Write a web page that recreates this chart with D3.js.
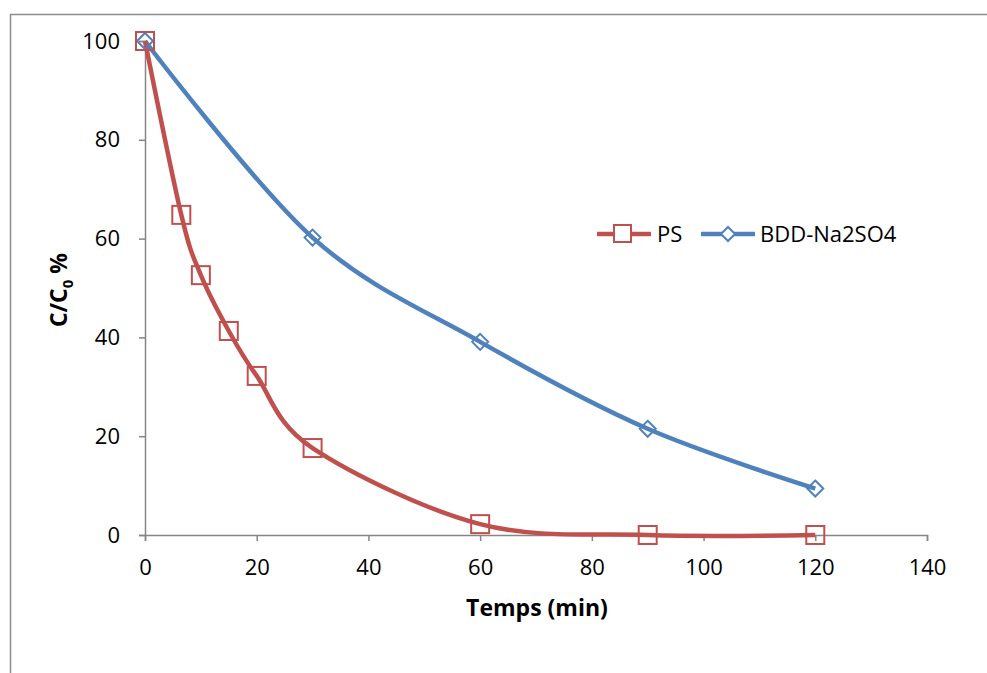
<!DOCTYPE html>
<html><head><meta charset="utf-8">
<script src="https://cdn.jsdelivr.net/npm/d3@7"></script>
<style>body{margin:0;background:#fff}svg{display:block}text{font-family:"Open Sans","Noto Sans",sans-serif}</style>
</head><body>
<script>
const psTime = [0, 6.5, 10, 15, 20, 30, 60, 90, 120];
const psValues = [100, 64.8, 52.6, 41.3, 32.2, 17.6, 2.2, 0, 0];
const bddTime = [0, 30, 60, 90, 120];
const bddValues = [100, 60.2, 39.1, 21.5, 9.4];
const xTicks = [0, 20, 40, 60, 80, 100, 120, 140];
const yTicks = [0, 20, 40, 60, 80, 100];
const seriesNames = ["PS", "BDD-Na2SO4"];

const W = 987, H = 673;
const svg = d3.select("body").append("svg").attr("width", W).attr("height", H);
svg.append("rect").attr("x", 10.5).attr("y", 14.5).attr("width", W + 10).attr("height", H + 10)
  .attr("fill", "none").attr("stroke", "#8c8c8c").attr("stroke-width", 1.5);

const x = d3.scaleLinear().domain([0, 140]).range([145, 927]);
const y = d3.scaleLinear().domain([0, 100]).range([535, 41]);
const axisColor = "#868686";

const xa = svg.append("g").attr("transform", `translate(0,${y(0)})`)
  .call(d3.axisBottom(x).tickValues(xTicks).tickSize(6).tickPadding(18));
const ya = svg.append("g").attr("transform", `translate(${x(0)},0)`)
  .call(d3.axisLeft(y).tickValues(yTicks).tickSize(6).tickPadding(19));
[xa, ya].forEach(g => {
  g.select(".domain").attr("stroke", axisColor).attr("stroke-width", 1.5);
  g.selectAll(".tick line").attr("stroke", axisColor).attr("stroke-width", 1.5);
  g.selectAll(".tick text").attr("font-size", 22).attr("fill", "#000")
    .attr("font-family", "'Open Sans','Noto Sans',sans-serif");
});

svg.append("text").attr("x", 537).attr("y", 616).attr("text-anchor", "middle")
  .attr("font-size", 23).attr("font-weight", "bold").text("Temps (min)");
const yl = svg.append("text").attr("transform", "translate(67,290) rotate(-90)")
  .attr("text-anchor", "middle").attr("font-size", 23).attr("font-weight", "bold");
yl.append("tspan").text("C/C");
yl.append("tspan").attr("font-size", 15).attr("dy", 6).text("0");
yl.append("tspan").attr("dy", -6).text(" %");

const line = d3.line().x(d => x(d[0])).y(d => y(d[1])).curve(d3.curveCatmullRom.alpha(0));
const red = "#c0504d", blue = "#4f81bd";
const ps = psTime.map((t, i) => [t, psValues[i]]);
const bdd = bddTime.map((t, i) => [t, bddValues[i]]);

svg.append("path").datum(bdd).attr("d", line).attr("fill", "none").attr("stroke", blue).attr("stroke-width", 4.5);
svg.append("path").datum(ps).attr("d", line).attr("fill", "none").attr("stroke", red).attr("stroke-width", 4.5);

const sq = 18, dm = 8;
function square(g, cx, cy) {
  g.append("rect").attr("x", cx - sq / 2).attr("y", cy - sq / 2).attr("width", sq).attr("height", sq)
    .attr("fill", "none").attr("stroke", red).attr("stroke-width", 2);
}
function diamond(g, cx, cy) {
  g.append("path").attr("d", `M${cx},${cy - dm}L${cx + dm},${cy}L${cx},${cy + dm}L${cx - dm},${cy}Z`)
    .attr("fill", "none").attr("stroke", blue).attr("stroke-width", 2);
}
const mk = svg.append("g");
bdd.forEach(d => diamond(mk, x(d[0]), y(d[1])));
ps.forEach(d => square(mk, x(d[0]), y(d[1])));

// legend
const lg = svg.append("g");
const ly = 234;
lg.append("line").attr("x1", 597).attr("x2", 651).attr("y1", ly).attr("y2", ly).attr("stroke", red).attr("stroke-width", 4.5);
lg.append("rect").attr("x", 614).attr("y", ly - 9).attr("width", 17).attr("height", 17).attr("fill", "#fff").attr("stroke", red).attr("stroke-width", 2);
lg.append("text").attr("x", 657).attr("y", ly + 8).attr("font-size", 22).text(seriesNames[0]);
lg.append("line").attr("x1", 701).attr("x2", 755).attr("y1", ly).attr("y2", ly).attr("stroke", blue).attr("stroke-width", 4.5);
lg.append("path").attr("d", `M728,${ly - 7}L735,${ly}L728,${ly + 7}L721,${ly}Z`).attr("fill", "#fff").attr("stroke", blue).attr("stroke-width", 2);
lg.append("text").attr("x", 760).attr("y", ly + 8).attr("font-size", 22).text(seriesNames[1]);
</script>
</body></html>
